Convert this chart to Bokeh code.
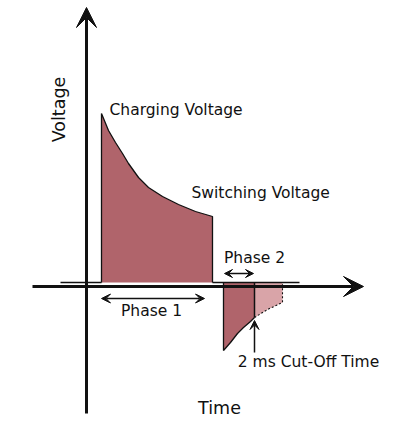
import math
from bokeh.plotting import figure
from bokeh.models import Range1d, Arrow, VeeHead, ColumnDataSource
from bokeh.core.properties import value
from bokeh.embed import file_html
from bokeh.resources import INLINE

# ---- data (time units, voltage units; origin at the axes crossing) ----
baseline_v = 4
lead_t = [-26, 15]                    # flat lead-in before the pulse
pulse1_t = [15, 22, 29, 36, 42, 52, 62, 76, 92, 109, 126]
pulse1_v = [173, 156, 144, 133, 123, 109, 99, 90, 82, 75, 70]
gap_t = [126, 213]                    # flat line after phase 1 to the end
pulse2_t = [137, 144, 151, 157, 164, 168]
pulse2_v = [-64, -56, -47, -41, -35, -31]
tail_t = [168, 181, 196]
tail_v = [-31, -23, -16]

label_text = ["Charging Voltage", "Switching Voltage", "Phase 1", "Phase 2", "2 ms Cut-Off Time"]
label_t = [23, 105, 65, 168, 222]
label_v = [177, 94, -24, 29, -75]
label_align = ["left", "left", "center", "center", "center"]

x_title = "Time"
y_title = "Voltage"

DARK = "#B0646B"
LIGHT = "#D9A4A8"
INK = "#111111"
FONT = "DejaVu Sans"

p = figure(width=400, height=425, x_range=Range1d(-86, 314), y_range=Range1d(-139, 286),
           x_axis_type=None, y_axis_type=None, toolbar_location=None,
           output_backend="svg", min_border=0, outline_line_color=None)
p.grid.visible = False
p.background_fill_color = "white"

# positive pulse
px = [pulse1_t[0]] + pulse1_t + [pulse1_t[-1]]
py = [baseline_v] + pulse1_v + [baseline_v]
p.patch(px, py, fill_color=DARK, line_color=None)
p.line(px, py, line_color=INK, line_width=1.3)

# negative pulse
nx = [pulse2_t[0]] + pulse2_t + [pulse2_t[-1]]
ny = [baseline_v] + pulse2_v + [baseline_v]
p.patch(nx, ny, fill_color=DARK, line_color=None)
p.line(nx[:-1], ny[:-1], line_color=INK, line_width=1.3)

# light tail after cut-off
tx = tail_t + [tail_t[-1], tail_t[0]]
ty = tail_v + [baseline_v, baseline_v]
p.patch(tx, ty, fill_color=LIGHT, line_color=None)
p.line(tail_t + [tail_t[-1]], tail_v + [baseline_v], line_color=INK, line_width=1.1, line_dash="2 2")

# baselines
p.line(lead_t, [baseline_v] * 2, line_color=INK, line_width=1.3)
p.line(gap_t, [baseline_v] * 2, line_color=INK, line_width=1.3)
p.line([pulse2_t[-1]] * 2, [pulse2_v[-1], baseline_v], line_color=INK, line_width=1.5)

# axes with arrow heads
p.add_layout(Arrow(end=VeeHead(size=20, fill_color=INK, line_color=INK),
                   x_start=-54, y_start=0, x_end=277, y_end=0, line_width=3, line_color=INK))
p.add_layout(Arrow(end=VeeHead(size=20, fill_color=INK, line_color=INK),
                   x_start=0, y_start=-127, x_end=0, y_end=279, line_width=3, line_color=INK))

# phase arrows
p.add_layout(Arrow(start=VeeHead(size=9, fill_color=INK, line_color=INK),
                   end=VeeHead(size=9, fill_color=INK, line_color=INK),
                   x_start=15, y_start=-12, x_end=118, y_end=-12, line_width=1.5, line_color=INK))
p.add_layout(Arrow(start=VeeHead(size=8, fill_color=INK, line_color=INK),
                   end=VeeHead(size=8, fill_color=INK, line_color=INK),
                   x_start=138, y_start=13, x_end=167, y_end=13, line_width=1.5, line_color=INK))
p.add_layout(Arrow(end=VeeHead(size=9, fill_color=INK, line_color=INK),
                   x_start=168, y_start=-66, x_end=168, y_end=-34, line_width=1.5, line_color=INK))

src = ColumnDataSource(dict(x=label_t, y=label_v, text=label_text, align=label_align))
p.text(x="x", y="y", text="text", text_align="align", source=src,
       text_font=value(FONT), text_font_size="15.5px", text_baseline="alphabetic", text_color=INK)

p.text(x=[133], y=[-121], text=[x_title], text_align="center", text_baseline="alphabetic",
       text_font=value(FONT), text_font_size="17.5px", text_color=INK)
p.text(x=[-28], y=[177], text=[y_title], text_align="center", text_baseline="alphabetic",
       angle=math.pi / 2, text_font=value(FONT), text_font_size="17.5px", text_color=INK)

open("out.html", "w").write(file_html(p, INLINE))
